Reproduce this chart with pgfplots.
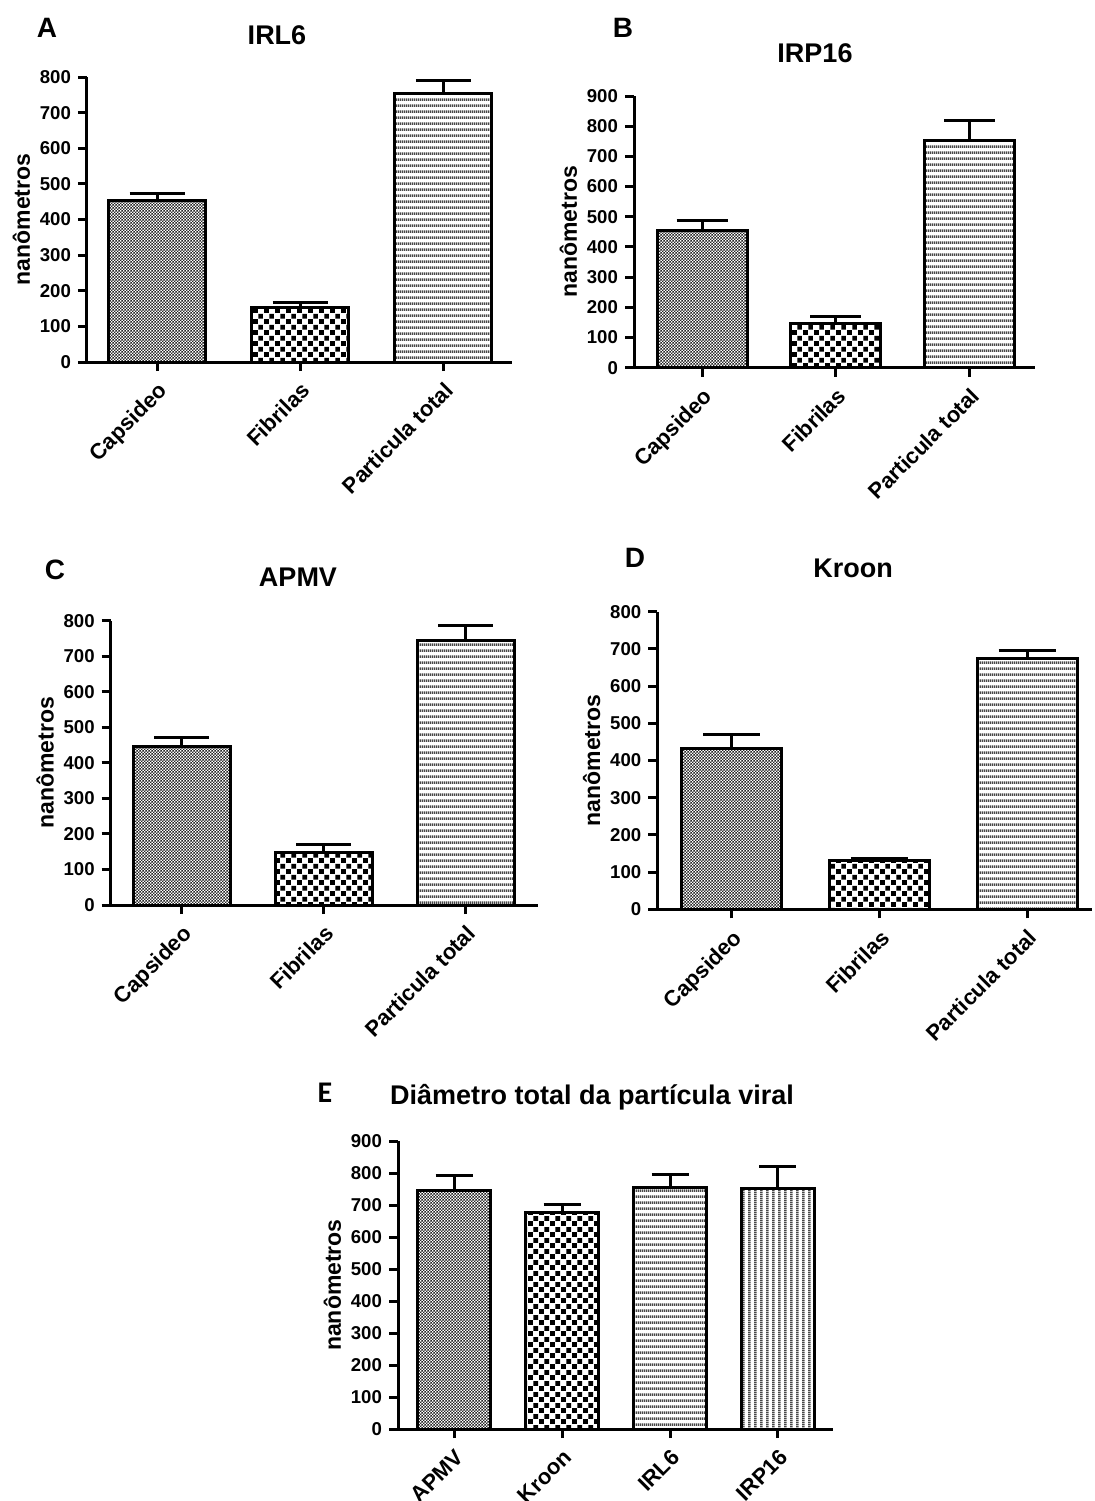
\documentclass[border=0pt]{standalone}
\usepackage{fontspec}
\setmainfont{Liberation Sans}
\newfontfamily\calibri{Carlito}
\usepackage{pgfplots}
\pgfplotsset{compat=1.18}
\usetikzlibrary{patterns}

\pgfdeclarepatternformonly{finechk}{\pgfqpoint{0pt}{0pt}}{\pgfqpoint{1.7pt}{1.7pt}}{\pgfqpoint{1.7pt}{1.7pt}}{%
  \pgfpathrectangle{\pgfqpoint{0pt}{0pt}}{\pgfqpoint{0.85pt}{0.85pt}}%
  \pgfpathrectangle{\pgfqpoint{0.85pt}{0.85pt}}{\pgfqpoint{0.85pt}{0.85pt}}%
  \pgfusepath{fill}}
\pgfdeclarepatternformonly{coarsechk}{\pgfqpoint{0pt}{0pt}}{\pgfqpoint{5.5pt}{5.5pt}}{\pgfqpoint{5.5pt}{5.5pt}}{%
  \pgfpathrectangle{\pgfqpoint{0.1pt}{0.1pt}}{\pgfqpoint{2.55pt}{2.55pt}}%
  \pgfpathrectangle{\pgfqpoint{2.85pt}{2.85pt}}{\pgfqpoint{2.55pt}{2.55pt}}%
  \pgfusepath{fill}}
\pgfdeclarepatternformonly{hlin}{\pgfqpoint{0pt}{0pt}}{\pgfqpoint{1pt}{2.9pt}}{\pgfqpoint{1pt}{2.9pt}}{%
  \pgfpathrectangle{\pgfqpoint{0pt}{0pt}}{\pgfqpoint{1pt}{1.35pt}}%
  \pgfusepath{fill}}
\pgfdeclarepatternformonly{vlin}{\pgfqpoint{0pt}{0pt}}{\pgfqpoint{2.9pt}{1pt}}{\pgfqpoint{2.9pt}{1pt}}{%
  \pgfpathrectangle{\pgfqpoint{0pt}{0pt}}{\pgfqpoint{1.35pt}{1pt}}%
  \pgfusepath{fill}}

\pgfplotsset{
  panel/.style={
    scale only axis,
    anchor=south west,
    axis x line*=bottom, axis y line*=left,
    x axis line style={-, line width=1.5pt},
    y axis line style={-, line width=1.5pt},
    tick style={line width=1.5pt, black},
    major tick length=4.5pt,
    tick align=outside,
    ybar, bar shift=0pt,
    ymin=0,
    xticklabel style={rotate=45, anchor=north east, font=\bfseries\fontsize{11}{13}\selectfont},
    yticklabel style={font=\bfseries\fontsize{9.3}{11}\selectfont},
    /pgf/number format/assume math mode=true,
    ylabel={nanômetros},
    ylabel shift=-2pt,
    ylabel style={font=\bfseries\fontsize{11.5}{13}\selectfont},
    error bars/y dir=plus, error bars/y explicit,
    error bars/error bar style={line width=1.5pt, black},
    every axis plot/.append style={draw=black, line width=1.5pt},
  },
  finebar/.style={pattern=finechk, pattern color=black!85},
  coarsebar/.style={pattern=coarsechk, pattern color=black},
  hbar/.style={pattern=hlin, pattern color=black!72},
  vbar/.style={pattern=vlin, pattern color=black!72},
}

\begin{document}
\begin{tikzpicture}[x=0.5pt,y=-0.5pt]
\path[use as bounding box] (0,0) rectangle (1094,1501);

% ---------- A : IRL6
\node[font=\bfseries\fontsize{14}{16}\selectfont] at (47,28) {A};
\node[font=\bfseries\fontsize{13.5}{15}\selectfont] at (277,35) {IRL6};
\begin{axis}[panel, at={(43.5pt,-181pt)}, width=212.5pt, height=142.5pt,
  xmin=-0.49, xmax=2.48, ymax=800, ytick={0,100,...,800}, bar width=48.5pt,
  xtick={0,1,2}, xticklabels={\textbf{Capsideo},\textbf{Fibrilas},\textbf{Particula total}},
  error bars/error mark options={rotate=90, mark size=13.75pt, line width=1.5pt}]
\addplot[finebar] coordinates {(0,452) +- (0,22)};
\addplot[coarsebar] coordinates {(1,152) +- (0,14)};
\addplot[hbar] coordinates {(2,755) +- (0,34)};
\end{axis}

% ---------- B : IRP16
\node[font=\bfseries\fontsize{14}{16}\selectfont] at (623,28) {B};
\node[font=\bfseries\fontsize{13.5}{15}\selectfont] at (815,53) {IRP16};
\begin{axis}[panel, at={(317pt,-183.85pt)}, width=200.5pt, height=135.85pt,
  xmin=-0.51, xmax=2.49, ymax=900, ytick={0,100,...,900}, bar width=45pt,
  xtick={0,1,2}, xticklabels={\textbf{Capsideo},\textbf{Fibrilas},\textbf{Particula total}},
  error bars/error mark options={rotate=90, mark size=12.75pt, line width=1.5pt}]
\addplot[finebar] coordinates {(0,454) +- (0,35)};
\addplot[coarsebar] coordinates {(1,147) +- (0,22)};
\addplot[hbar] coordinates {(2,751) +- (0,67)};
\end{axis}

% ---------- C : APMV
\node[font=\bfseries\fontsize{14}{16}\selectfont] at (55,570) {C};
\node[font=\bfseries\fontsize{13.5}{15}\selectfont] at (298,577) {APMV};
\begin{axis}[panel, at={(55.35pt,-452.5pt)}, width=213.65pt, height=142.15pt,
  xmin=-0.5, xmax=2.51, ymax=800, ytick={0,100,...,800}, bar width=48.5pt,
  xtick={0,1,2}, xticklabels={\textbf{Capsideo},\textbf{Fibrilas},\textbf{Particula total}},
  error bars/error mark options={rotate=90, mark size=13.75pt, line width=1.5pt}]
\addplot[finebar] coordinates {(0,447) +- (0,25)};
\addplot[coarsebar] coordinates {(1,147) +- (0,24)};
\addplot[hbar] coordinates {(2,744) +- (0,42)};
\end{axis}

% ---------- D : Kroon
\node[font=\bfseries\fontsize{14}{16}\selectfont] at (635,558) {D};
\node[font=\bfseries\fontsize{13.5}{15}\selectfont] at (853,568) {Kroon};
\begin{axis}[panel, at={(328.65pt,-454.65pt)}, width=217.35pt, height=148.8pt,
  xmin=-0.504, xmax=2.44, ymax=800, ytick={0,100,...,800}, bar width=50pt,
  xtick={0,1,2}, xticklabels={\textbf{Capsideo},\textbf{Fibrilas},\textbf{Particula total}},
  error bars/error mark options={rotate=90, mark size=14.25pt, line width=1.5pt}]
\addplot[finebar] coordinates {(0,433) +- (0,38)};
\addplot[coarsebar] coordinates {(1,130) +- (0,7)};
\addplot[hbar] coordinates {(2,675) +- (0,22)};
\end{axis}

% ---------- E : all
\node[font=\calibri\bfseries\fontsize{15}{17}\selectfont] at (325,1093) {E};
\node[font=\bfseries\fontsize{13.5}{15}\selectfont] at (592,1097) {Diâmetro total da partícula viral};
\begin{axis}[panel, at={(199pt,-714.5pt)}, width=217.5pt, height=144pt,
  xmin=-0.52, xmax=3.51, ymax=900, ytick={0,100,...,900}, bar width=36.5pt,
  xtick={0,1,2,3}, xticklabels={\textbf{APMV},\textbf{Kroon},\textbf{IRL6},\textbf{IRP16}},
  error bars/error mark options={rotate=90, mark size=9.25pt, line width=1.5pt}]
\addplot[finebar] coordinates {(0,744) +- (0,48)};
\addplot[coarsebar] coordinates {(1,676) +- (0,26)};
\addplot[hbar] coordinates {(2,755) +- (0,39)};
\addplot[vbar] coordinates {(3,752) +- (0,68)};
\end{axis}
\end{tikzpicture}
\end{document}
